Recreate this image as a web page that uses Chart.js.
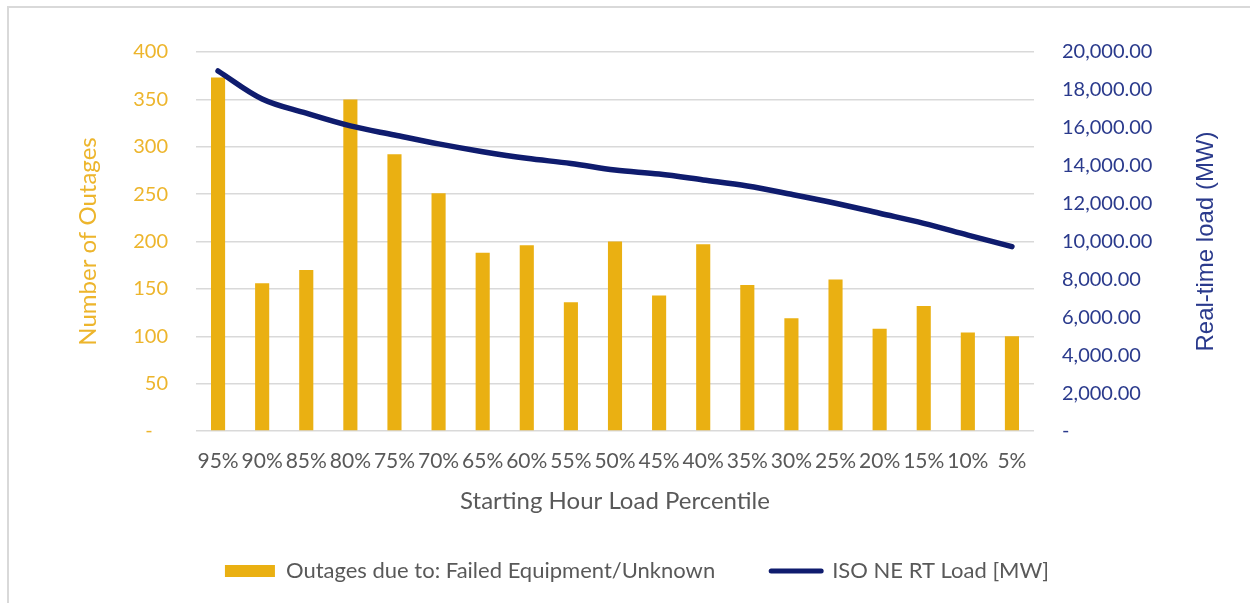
<!DOCTYPE html>
<html>
<head>
<meta charset="utf-8">
<script src="https://cdn.jsdelivr.net/npm/chart.js@4.4.1/dist/chart.umd.min.js"></script>
<style>
  html, body { margin: 0; padding: 0; background: #fff; }
  #wrap { position: relative; width: 1250px; height: 603px; }
  #frame { position: absolute; left: 7px; top: 6px; right: 0; bottom: 0; border-top: 2px solid #d9d9d9; border-left: 2px solid #d9d9d9; }
  #chart { position: absolute; left: 0; top: 0; }
</style>
</head>
<body>
<div id="wrap">
  <div id="frame"></div>
  <canvas id="chart" width="1250" height="603"></canvas>
</div>
<script>
const percentiles = ["95%", "90%", "85%", "80%", "75%", "70%", "65%", "60%", "55%", "50%",
                     "45%", "40%", "35%", "30%", "25%", "20%", "15%", "10%", "5%"];
const outages = [373, 156, 170, 350, 292, 251, 188, 196, 136, 200,
                 143, 197, 154, 119, 160, 108, 132, 104, 100];
const rtLoad = [19000, 17520, 16770, 16100, 15620, 15150, 14740, 14390, 14120, 13770,
                13560, 13250, 12930, 12490, 12020, 11490, 10960, 10340, 9730];

const GOLD = "#EAB012";
const GOLD_TEXT = "#EDB52C";
const NAVY = "#0F1C6E";
const NAVY_TEXT = "#2A3A8C";
const GREY_TEXT = "#595959";
const FONT = "Lato";

// right-hand axis title reads bottom-to-top, so it is drawn here
const rightTitle = {
    id: "rightTitle",
    afterDraw(chart) {
        const { ctx, chartArea } = chart;
        ctx.save();
        ctx.translate(1206, (chartArea.top + chartArea.bottom) / 2);
        ctx.rotate(-Math.PI / 2);
        ctx.font = "24px 'Liberation Sans'";
        ctx.fillStyle = NAVY_TEXT;
        ctx.textAlign = "center";
        ctx.textBaseline = "middle";
        ctx.fillText("Real-time load (MW)", 0, 0);
        ctx.restore();
    }
};

const ctx = document.getElementById("chart").getContext("2d");
new Chart(ctx, {
    type: "bar",
    data: {
        labels: percentiles,
        datasets: [
            {
                type: "bar",
                label: "Outages due to: Failed Equipment/Unknown",
                data: outages,
                backgroundColor: GOLD,
                borderWidth: 0,
                categoryPercentage: 1,
                barPercentage: 0.32,
                yAxisID: "y",
                order: 2
            },
            {
                type: "line",
                label: "ISO NE RT Load [MW]",
                data: rtLoad,
                borderColor: NAVY,
                backgroundColor: NAVY,
                borderWidth: 5.5,
                pointRadius: 0,
                tension: 0.35,
                borderCapStyle: "round",
                yAxisID: "y1",
                order: 1
            }
        ]
    },
    options: {
        responsive: false,
        animation: false,
        layout: { padding: { left: 27, right: 3, top: 52, bottom: 11 } },
        plugins: {
            tooltip: { enabled: false },
            legend: {
                position: "bottom",
                labels: {
                    usePointStyle: true,
                    pointStyleWidth: 50,
                    boxHeight: 12,
                    padding: 56,
                    color: GREY_TEXT,
                    font: { family: FONT, size: 22 },
                    generateLabels(chart) {
                        const items = Chart.defaults.plugins.legend.labels.generateLabels(chart);
                        items.sort((a, b) => a.datasetIndex - b.datasetIndex);
                        items[0].pointStyle = "rect";
                        items[0].lineWidth = 0;
                        items[1].pointStyle = "line";
                        items[1].lineWidth = 5;
                        items[1].strokeStyle = NAVY;
                        items[1].lineCap = "round";
                        return items;
                    }
                }
            }
        },
        scales: {
            x: {
                grid: { display: false },
                border: { display: false },
                ticks: {
                    color: GREY_TEXT,
                    font: { family: FONT, size: 21 },
                    padding: 10,
                    maxRotation: 0,
                    autoSkip: false
                },
                title: {
                    display: true,
                    text: "Starting Hour Load Percentile",
                    color: GREY_TEXT,
                    font: { family: FONT, size: 24 },
                    padding: { top: 0, bottom: -12 }
                },
                afterFit: s => { s.height = 73; }
            },
            y: {
                position: "left",
                min: 0,
                max: 400,
                ticks: {
                    stepSize: 50,
                    color: GOLD_TEXT,
                    font: { family: FONT, size: 20 },
                    padding: 28,
                    callback: v => v === 0 ? "-   " : v
                },
                grid: { color: "#d9d9d9", lineWidth: 1.5, drawTicks: false },
                border: { display: false },
                title: {
                    display: true,
                    text: "Number of Outages",
                    color: GOLD_TEXT,
                    font: { family: FONT, size: 24 },
                    padding: { top: 47, bottom: 0 }
                },
                afterFit: s => { s.width = 169; }
            },
            y1: {
                position: "right",
                min: 0,
                max: 20000,
                ticks: {
                    stepSize: 2000,
                    color: NAVY_TEXT,
                    font: { family: FONT, size: 20 },
                    padding: 28,
                    callback: v => v === 0 ? "-" :
                        v.toLocaleString("en-US", { minimumFractionDigits: 2, maximumFractionDigits: 2 })
                },
                grid: { display: false, drawTicks: false },
                border: { display: false },
                afterFit: s => { s.width = 213; }
            }
        }
    },
    plugins: [rightTitle]
});
</script>
</body>
</html>
